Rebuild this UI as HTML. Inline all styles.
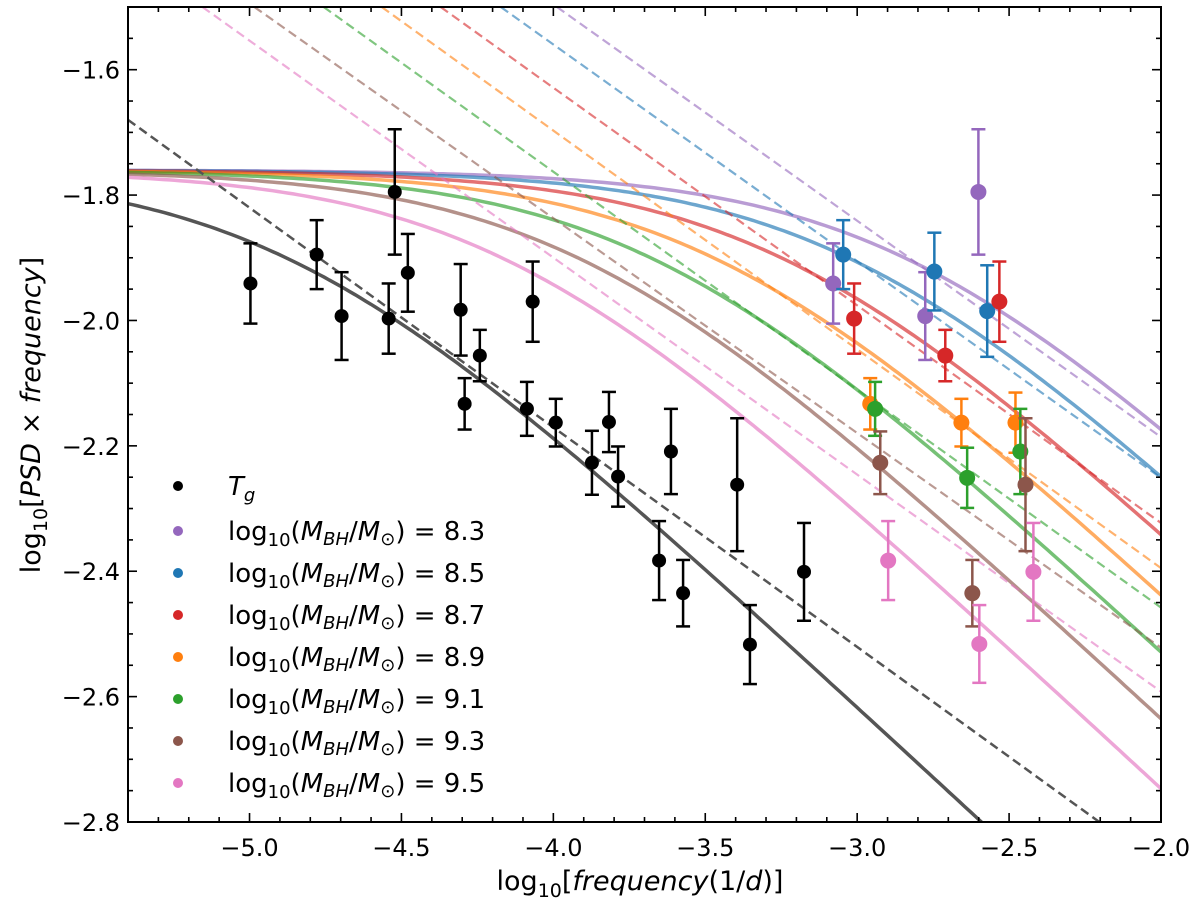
<!DOCTYPE html>
<html><head><meta charset="utf-8"><style>
html,body{margin:0;padding:0;background:#fff;width:1200px;height:914px;overflow:hidden;}
svg{display:block;font-family:"DejaVu Sans","Liberation Sans",sans-serif;}
</style></head><body>
<svg id="chart" width="1200" height="914" viewBox="0 0 1200 914" xmlns="http://www.w3.org/2000/svg">
<defs><clipPath id="clip"><rect x="128" y="7" width="1033" height="815"/></clipPath></defs>
<g id="plot" clip-path="url(#clip)"></g>
<g id="axes"></g>
<g id="legend"></g>
<text x="640" y="890" font-size="27" text-anchor="middle">log<tspan font-size="19" dy="7">10</tspan><tspan dy="-7">[</tspan><tspan font-style="italic">frequency</tspan>(1/<tspan font-style="italic">d</tspan>)]</text>
<text transform="translate(40,415) rotate(-90)" font-size="27" text-anchor="middle">log<tspan font-size="19" dy="7">10</tspan><tspan dy="-7">[</tspan><tspan font-style="italic">PSD</tspan> × <tspan font-style="italic">frequency</tspan>]</text>
</svg>
<script>
// ---- data ----
const seriesNames = ["8.3","8.5","8.7","8.9","9.1","9.3","9.5"];
const seriesColors = ["#9467bd","#1f77b4","#d62728","#ff7f0e","#2ca02c","#8c564b","#e377c2"];
const curvePlateau = -1.76;
const curveSlopeA = 0.45;
const curveBreak = [-2.864,-3.05,-3.27,-3.493,-3.70,-3.94,-4.19];
const blackBreak = -4.90;
const dashXTop = [-3.988,-4.173,-4.371,-4.565,-4.756,-4.984,-5.155];
const dashYEnd = [-2.186,-2.251,-2.323,-2.395,-2.458,-2.522,-2.592];
const blackDashStart = [-5.4,-1.68];
const blackDashEnd = [-2.203,-2.8];
const blackX = [-4.997,-4.779,-4.697,-4.542,-4.522,-4.479,-4.305,-4.242,-4.292,-4.068,-4.087,-3.992,-3.873,-3.817,-3.787,-3.613,-3.652,-3.573,-3.395,-3.353,-3.175];
const blackY = [-1.941,-1.895,-1.993,-1.997,-1.795,-1.924,-1.983,-2.056,-2.133,-1.970,-2.141,-2.163,-2.227,-2.162,-2.249,-2.209,-2.383,-2.435,-2.262,-2.517,-2.401];
const blackErr = [0.064,0.055,0.070,0.056,0.100,0.062,0.073,0.041,0.041,0.064,0.043,0.038,0.051,0.048,0.048,0.068,0.063,0.053,0.106,0.063,0.078];
const colX = [[-3.079,-2.776,-2.601],[-3.046,-2.746,-2.572],[-3.010,-2.710,-2.532],[-2.957,-2.657,-2.479],[-2.941,-2.638,-2.463],[-2.924,-2.621,-2.446],[-2.898,-2.598,-2.420]];
const colY = [[-1.941,-1.993,-1.795],[-1.895,-1.922,-1.985],[-1.997,-2.056,-1.970],[-2.133,-2.163,-2.163],[-2.141,-2.251,-2.209],[-2.227,-2.435,-2.262],[-2.383,-2.516,-2.401]];
const colErr = [[0.064,0.070,0.100],[0.055,0.062,0.073],[0.056,0.041,0.064],[0.041,0.038,0.048],[0.043,0.048,0.068],[0.050,0.053,0.106],[0.063,0.062,0.078]];
const xTicks = [-5.0,-4.5,-4.0,-3.5,-3.0,-2.5,-2.0];
const xTickLabels = ["−5.0","−4.5","−4.0","−3.5","−3.0","−2.5","−2.0"];
const yTicks = [-1.6,-1.8,-2.0,-2.2,-2.4,-2.6,-2.8];
const yTickLabels = ["−1.6","−1.8","−2.0","−2.2","−2.4","−2.6","−2.8"];
// ---- scales ----
const X0=128,X1=1161,Y0=7,Y1=822, xmin=-5.4,xmax=-2.0,ymin=-2.8,ymax=-1.5;
const sx=v=>X0+(v-xmin)/(xmax-xmin)*(X1-X0);
const sy=v=>Y1-(v-ymin)/(ymax-ymin)*(Y1-Y0);
const NS="http://www.w3.org/2000/svg";
function mk(tag,parent,attrs){const e=document.createElementNS(NS,tag);for(const k in attrs)e.setAttribute(k,attrs[k]);parent.appendChild(e);return e;}
const plot=document.getElementById('plot'),axes=document.getElementById('axes'),legend=document.getElementById('legend');
function curve(xb,x){return curvePlateau-curveSlopeA*Math.log10(1+Math.pow(10,x-xb));}
function curvePath(xb){let d="";for(let i=0;i<=200;i++){const x=xmin+(xmax-xmin)*i/200;d+=(i?"L":"M")+sx(x).toFixed(1)+","+sy(curve(xb,x)).toFixed(1);}return d;}
let p=mk('path',plot,{d:curvePath(blackBreak),fill:"none",stroke:"#555",'stroke-width':3.5});


seriesNames.forEach((n,i)=>{
  const c=mk('path',plot,{d:curvePath(curveBreak[i]),fill:"none",stroke:seriesColors[i],'stroke-width':3.5,'stroke-opacity':0.65});
  
  
});
seriesNames.forEach((n,i)=>{
  const l=mk('line',plot,{x1:sx(dashXTop[i]),y1:sy(-1.5),x2:sx(-2.0),y2:sy(dashYEnd[i]),stroke:seriesColors[i],'stroke-width':2.2,'stroke-opacity':0.6,'stroke-dasharray':"9,5"});
  
  
});
let bd=mk('line',plot,{x1:sx(blackDashStart[0]),y1:sy(blackDashStart[1]),x2:sx(blackDashEnd[0]),y2:sy(blackDashEnd[1]),stroke:"#555",'stroke-width':2.5,'stroke-dasharray':"9,5"});


function errPoint(x,y,e,color,r,name){
  const g=mk('g',plot,{});
  
  
  const cx=sx(x),t=sy(y+e),b=sy(y-e);
  mk('line',g,{x1:cx,y1:t,x2:cx,y2:b,stroke:color,'stroke-width':2.5});
  mk('line',g,{x1:cx-7,y1:t,x2:cx+7,y2:t,stroke:color,'stroke-width':2.5});
  mk('line',g,{x1:cx-7,y1:b,x2:cx+7,y2:b,stroke:color,'stroke-width':2.5});
  mk('circle',g,{cx:cx,cy:sy(y),r:r,fill:color});
}
blackX.forEach((x,i)=>errPoint(x,blackY[i],blackErr[i],"#000",7,'tg-point'));
seriesNames.forEach((n,i)=>colX[i].forEach((x,j)=>errPoint(x,colY[i][j],colErr[i][j],seriesColors[i],8,'point-'+n)));
let fr=mk('rect',axes,{x:X0,y:Y0,width:X1-X0,height:Y1-Y0,fill:"none",stroke:"#000",'stroke-width':2});


for(let v=-5.4;v<=-2.0001;v+=0.1){const X=sx(v);const major=xTicks.some(t=>Math.abs(t-v)<1e-6);const L=major?9:5;
  mk('line',axes,{x1:X,y1:Y1,x2:X,y2:Y1-L,stroke:"#000",'stroke-width':1.6});
  mk('line',axes,{x1:X,y1:Y0,x2:X,y2:Y0+L,stroke:"#000",'stroke-width':1.6});}
for(let v=-2.8;v<=-1.5001;v+=0.05){const Y=sy(v);const major=yTicks.some(t=>Math.abs(t-v)<1e-6);const L=major?9:5;
  mk('line',axes,{x1:X0,y1:Y,x2:X0+L,y2:Y,stroke:"#000",'stroke-width':1.6});
  mk('line',axes,{x1:X1,y1:Y,x2:X1-L,y2:Y,stroke:"#000",'stroke-width':1.6});}
xTicks.forEach((t,i)=>{const e=mk('text',axes,{x:sx(t),y:Y1+34,'font-size':24,'text-anchor':'middle'});e.textContent=xTickLabels[i];
  
  });
yTicks.forEach((t,i)=>{const e=mk('text',axes,{x:X0-8,y:sy(t)+9,'font-size':24,'text-anchor':'end'});e.textContent=yTickLabels[i];
  
  });
const lt=mk('g',legend,{});


mk('circle',lt,{cx:178,cy:486,r:5,fill:"#000"});
const tg=mk('text',lt,{x:228,y:495,'font-size':26,'font-style':'italic'});
tg.innerHTML='T<tspan font-size="18" dy="6">g</tspan>';
seriesNames.forEach((n,i)=>{
  const y=531+i*42;
  const g=mk('g',legend,{});
  
  
  mk('circle',g,{cx:178,cy:y,r:5,fill:seriesColors[i]});
  const t=mk('text',g,{x:228,y:y+9,'font-size':26});
  t.innerHTML='log<tspan font-size="18" dy="6">10</tspan><tspan dy="-6">(</tspan><tspan font-style="italic">M</tspan><tspan font-size="18" font-style="italic" dy="5">BH</tspan><tspan dy="-5">/</tspan><tspan font-style="italic">M</tspan><tspan font-size="18" dy="5">⊙</tspan><tspan dy="-5">) = '+n+'</tspan>';
});
</script>
</body></html>
